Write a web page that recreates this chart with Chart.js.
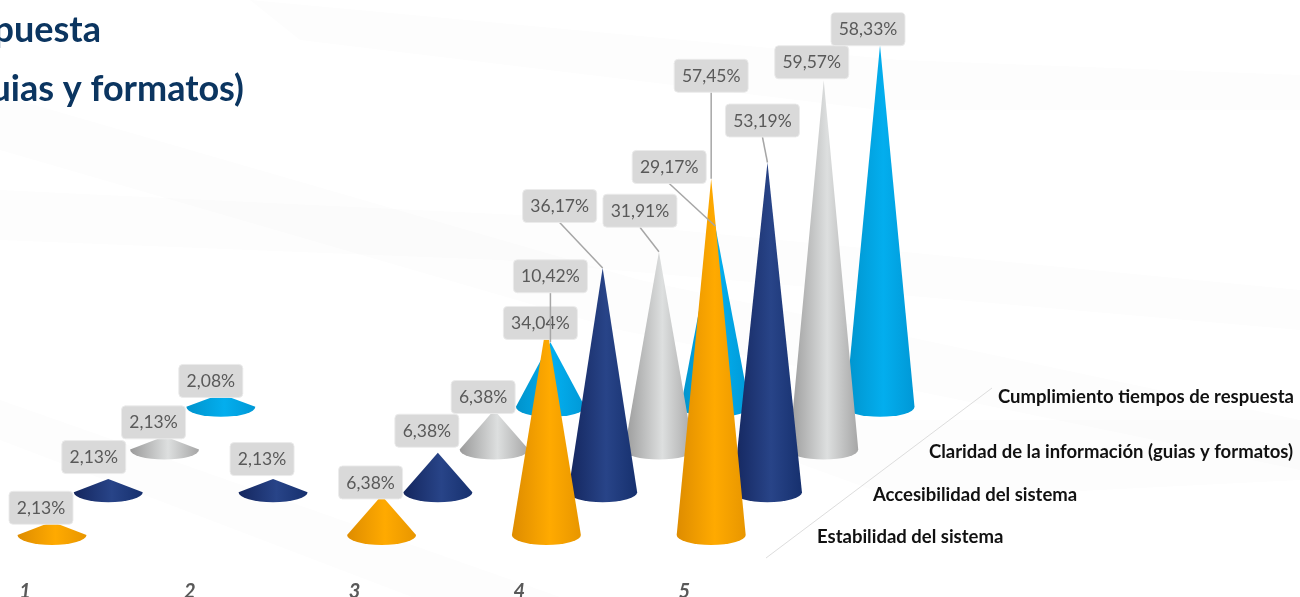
<!DOCTYPE html>
<html><head><meta charset="utf-8">
<style>html,body{margin:0;padding:0;background:#fff;overflow:hidden}#w{position:relative;width:1300px;height:597px}</style>
<script src="https://cdn.jsdelivr.net/npm/chart.js@4/dist/chart.umd.min.js"></script>
</head><body><div id="w"><canvas id="c" width="1300" height="597"></canvas></div>
<script>
const categories = ['1','2','3','4','5'];
const seriesNames = ['Estabilidad del sistema','Accesibilidad del sistema','Claridad de la información (guias y formatos)','Cumplimiento tiempos de respuesta'];
const estabilidad = [2.13,null,6.38,34.04,57.45];
const accesibilidad = [2.13,2.13,6.38,36.17,53.19];
const claridad = [2.13,null,6.38,31.91,59.57];
const cumplimiento = [2.08,null,10.42,29.17,58.33];
const seriesValues = [estabilidad,accesibilidad,claridad,cumplimiento];

// styling and layout, separate from the data
const gradients = [
  ['#DE8C00','#FFAA00','#E89600'],
  ['#14265E','#284488','#16306E'],
  ['#9A9A9A','#DDDFDF','#A6A6A6'],
  ['#0093CC','#03AEEE','#0098D6']
];
const depthX = 0.3415, depthY = 6.89;   // axis units between the series rows (fake 3D depth)
const labelOffsets = [
  [[-11,-14],null,[-11,-13],[-6,-1],[0,-103]],
  [[-14.5,-22],[-11,-20],[-11,-22],[-43,-62],[-5,-42]],
  [[-11,-14],null,[-11,-13],[-19,-41],[-12,-18]],
  [[-10,-13],null,[0,-66],[-46,-59],[-12,-16]]
];
const seriesLabelPos = [[817,537],[873,495],[929,452],[998,397]];
const titleLines = [['respuesta',101,30],['(guias y formatos)',244,89]];
const bands = [
  [[0,95],[640,280],[1300,420],[1300,470],[620,330],[0,150]],
  [[0,190],[520,215],[1300,290],[1300,330],[500,260],[0,240]],
  [[250,0],[900,60],[1300,75],[1300,110],[880,110],[300,40]],
  [[0,440],[420,600],[560,597],[0,400]],
  [[680,420],[1300,420],[1300,480],[900,500]]
];

const fmt = v => v.toFixed(2).replace('.',',') + '%';

function drawCone(ctx,x,tip,cy,rx,ry){
  ctx.beginPath();
  ctx.moveTo(x,tip);
  ctx.lineTo(x-rx,cy);
  ctx.ellipse(x,cy,rx,ry,0,Math.PI,0,true);
  ctx.closePath();
  ctx.fill();
}

const conePlugin = {
  id:'cones',
  beforeDraw(chart){
    const ctx = chart.ctx;
    ctx.save();
    ctx.fillStyle='#fff';ctx.fillRect(0,0,1300,597);
    ctx.fillStyle='rgba(120,120,120,0.012)';
    bands.forEach(b=>{ctx.beginPath();b.forEach((p,i)=>i?ctx.lineTo(p[0],p[1]):ctx.moveTo(p[0],p[1]));ctx.closePath();ctx.fill();});
    // floor edge
    ctx.strokeStyle='#DDDDDD';ctx.lineWidth=1;
    ctx.beginPath();ctx.moveTo(766,558);ctx.lineTo(992,388);ctx.stroke();
    // clipped title
    ctx.fillStyle='#0B3560';ctx.font='bold 36px Lato';ctx.textAlign='right';ctx.textBaseline='middle';
    titleLines.forEach(t=>ctx.fillText(t[0],t[1],t[2]));
    // depth axis labels
    ctx.fillStyle='#111';ctx.font='bold 18.5px Lato';ctx.textAlign='left';
    seriesNames.forEach((n,i)=>ctx.fillText(n,seriesLabelPos[i][0],seriesLabelPos[i][1]));
    ctx.restore();
  },
  beforeDatasetDraw(chart,args){
    const ctx = chart.ctx, s = args.index, g = gradients[s];
    args.meta.data.forEach(el=>{
      const {x,y,base,width} = el.getProps(['x','y','base','width'],true);
      const rx = width/2, ry = 10;
      const gr = ctx.createLinearGradient(x-rx,0,x+rx,0);
      gr.addColorStop(0,g[0]);gr.addColorStop(0.55,g[1]);gr.addColorStop(1,g[2]);
      ctx.save();
      ctx.fillStyle = gr;
      drawCone(ctx,x,y,base,rx,ry);
      ctx.restore();
    });
    return false;
  },
  afterDatasetsDraw(chart){
    const ctx = chart.ctx;
    ctx.save();
    chart.data.datasets.forEach((ds,s)=>{
      chart.getDatasetMeta(s).data.forEach((el,i)=>{
        const p = ds.data[i], off = labelOffsets[s][p.cat];
        const {x,y} = el.getProps(['x','y'],true);
        const cx = x+off[0], cy = y+off[1], w = 74, h = 33;
        if(off[1] < -30){
          ctx.strokeStyle='#A6A6A6';ctx.lineWidth=1.5;
          ctx.beginPath();ctx.moveTo(cx,cy+h/2);ctx.lineTo(x,y);ctx.stroke();
        }
        const bw = fmt(p.v).length<6 ? 64 : w;
        ctx.fillStyle='#D9D9D9';ctx.strokeStyle='rgba(235,235,235,0.9)';ctx.lineWidth=1;
        ctx.beginPath();ctx.roundRect(cx-bw/2,cy-h/2,bw,h,4);ctx.fill();ctx.stroke();
        ctx.fillStyle='#595959';ctx.font='17.5px Lato';ctx.textAlign='center';ctx.textBaseline='middle';
        ctx.fillText(fmt(p.v),cx,cy+0.5);
      });
    });
    ctx.restore();
  }
};

const datasets = seriesNames.map((name,s)=>({
  label:name,
  data: seriesValues[s].map((v,c)=>v==null?null:{
    x:c+1+s*depthX, y:[s*depthY, s*depthY+v], v, cat:c
  }).filter(Boolean),
  backgroundColor:gradients[s][1],
  barThickness:69,
  grouped:false
}));

new Chart(document.getElementById('c'),{
  type:'bar',
  data:{datasets},
  plugins:[conePlugin],
  options:{
    responsive:false,animation:false,
    layout:{padding:0},
    plugins:{legend:{display:false},tooltip:{enabled:false},title:{display:false}},
    scales:{
      x:{type:'linear',offset:false,min:0.6845,max:8.573,
        grid:{display:false,drawTicks:false,offset:false},border:{display:false},
        afterBuildTicks(a){a.ticks=categories.map(c=>({value:+c}));},
        afterFit(a){a.height=37;},
        ticks:{autoSkip:false,maxRotation:0,padding:20,labelOffset:-27,color:'#595959',
          font:{family:'Lato',size:20,style:'italic',weight:'bold'},
          callback:v=>String(v)}
      },
      y:{display:false,min:-4.032,max:86.29}
    }
  }
});
</script></body></html>
